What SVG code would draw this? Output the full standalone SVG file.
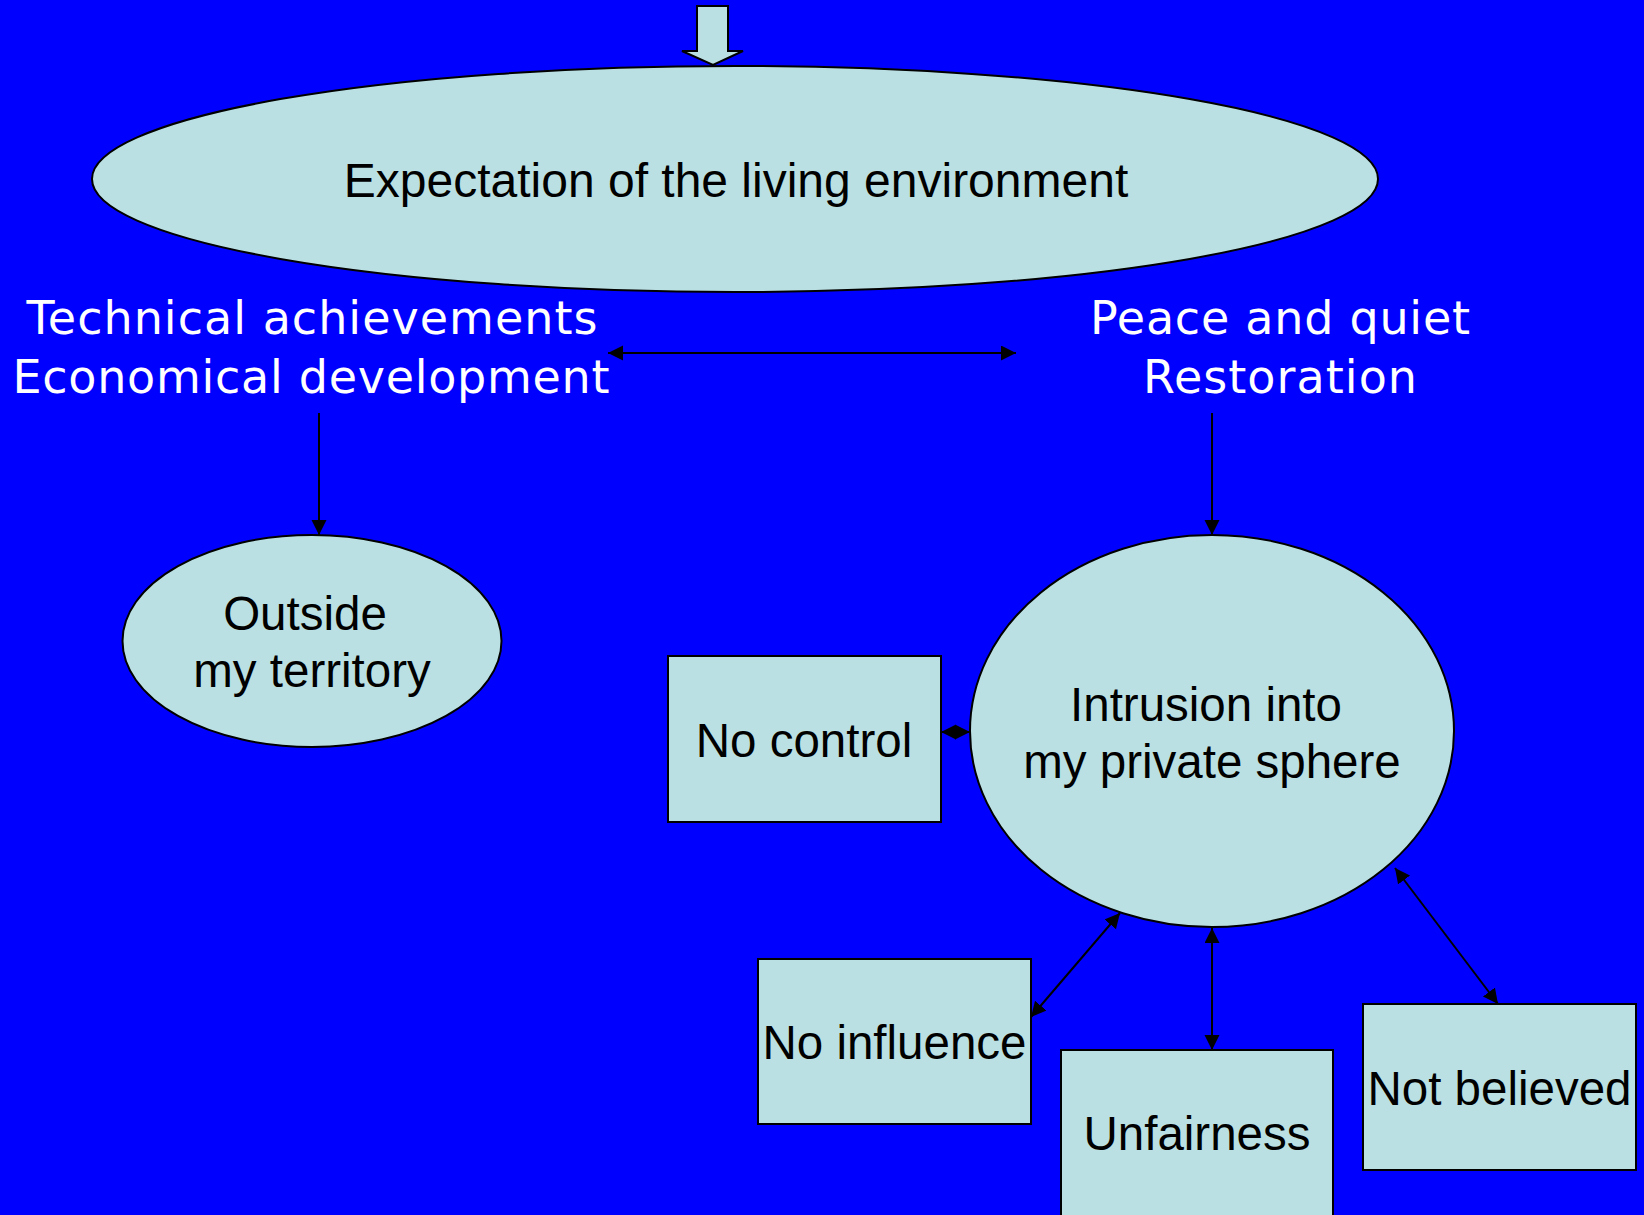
<svg xmlns="http://www.w3.org/2000/svg" width="1644" height="1215" viewBox="0 0 1644 1215">
  <style>
    .shape { fill: #BBE0E3; stroke: #000; stroke-width: 2; }
    .dark { font-family: "Liberation Sans", Arial, sans-serif; font-size: 47.5px; fill: #000; text-anchor: middle; }
    .light { font-family: "DejaVu Sans", Verdana, sans-serif; font-size: 46px; fill: #fff; text-anchor: middle; }
    .link { stroke: #000; stroke-width: 2; fill: none; }
  </style>
  <defs>
    <marker id="head" markerUnits="userSpaceOnUse" markerWidth="16" markerHeight="16" refX="15" refY="7.5" orient="auto-start-reverse">
      <path d="M0,0 L15,7.5 L0,15 z" fill="#000"/>
    </marker>
  </defs>

  <rect x="0" y="0" width="1644" height="1215" fill="#0000FF"/>

  <!-- incoming block arrow -->
  <g id="entry-arrow">
    <polygon class="shape" points="697,6 728,6 728,51 743,51 713,65 682,51 697,51"/>
  </g>

  <g id="expectation">
    <ellipse class="shape" cx="735" cy="179" rx="643" ry="113" stroke-width="2.5"/>
    <text class="dark" x="736" y="197" style="font-size:48px">Expectation of the living environment</text>
  </g>

  <g id="technical">
    <text class="light" x="312" y="334" textLength="571">Technical achievements</text>
    <text class="light" x="311" y="393" textLength="597">Economical development</text>
  </g>

  <g id="peace">
    <text class="light" x="1280" y="334" textLength="380">Peace and quiet</text>
    <text class="light" x="1280" y="393" textLength="274">Restoration</text>
  </g>

  <g id="outside">
    <ellipse class="shape" cx="312" cy="641" rx="189.5" ry="106"/>
    <text class="dark" x="305" y="630">Outside</text>
    <text class="dark" x="312" y="687">my territory</text>
  </g>

  <g id="intrusion">
    <ellipse class="shape" cx="1212" cy="731" rx="242" ry="196"/>
    <text class="dark" x="1206" y="721">Intrusion into</text>
    <text class="dark" x="1212" y="778">my private sphere</text>
  </g>

  <g id="no-control">
    <rect class="shape" x="668" y="656" width="273" height="166"/>
    <text class="dark" x="804" y="757">No control</text>
  </g>

  <g id="no-influence">
    <rect class="shape" x="758" y="959" width="273" height="165"/>
    <text class="dark" x="894.5" y="1059">No influence</text>
  </g>

  <g id="unfairness">
    <rect class="shape" x="1061" y="1050" width="272" height="180"/>
    <text class="dark" x="1197" y="1150">Unfairness</text>
  </g>

  <g id="not-believed">
    <rect class="shape" x="1363" y="1004" width="273" height="166"/>
    <text class="dark" x="1499.5" y="1105">Not believed</text>
  </g>

  <g id="connectors">
    <line class="link" x1="608" y1="353" x2="1016" y2="353" marker-start="url(#head)" marker-end="url(#head)"/>
    <line class="link" x1="319" y1="413" x2="319" y2="535" marker-end="url(#head)"/>
    <line class="link" x1="1212" y1="413" x2="1212" y2="535" marker-end="url(#head)"/>
    <line class="link" x1="941" y1="732" x2="970" y2="732" marker-start="url(#head)" marker-end="url(#head)"/>
    <line class="link" x1="1031" y1="1017" x2="1120" y2="913" marker-start="url(#head)" marker-end="url(#head)"/>
    <line class="link" x1="1212" y1="928" x2="1212" y2="1050" marker-start="url(#head)" marker-end="url(#head)"/>
    <line class="link" x1="1395" y1="868" x2="1498" y2="1004" marker-start="url(#head)" marker-end="url(#head)"/>
  </g>
</svg>
